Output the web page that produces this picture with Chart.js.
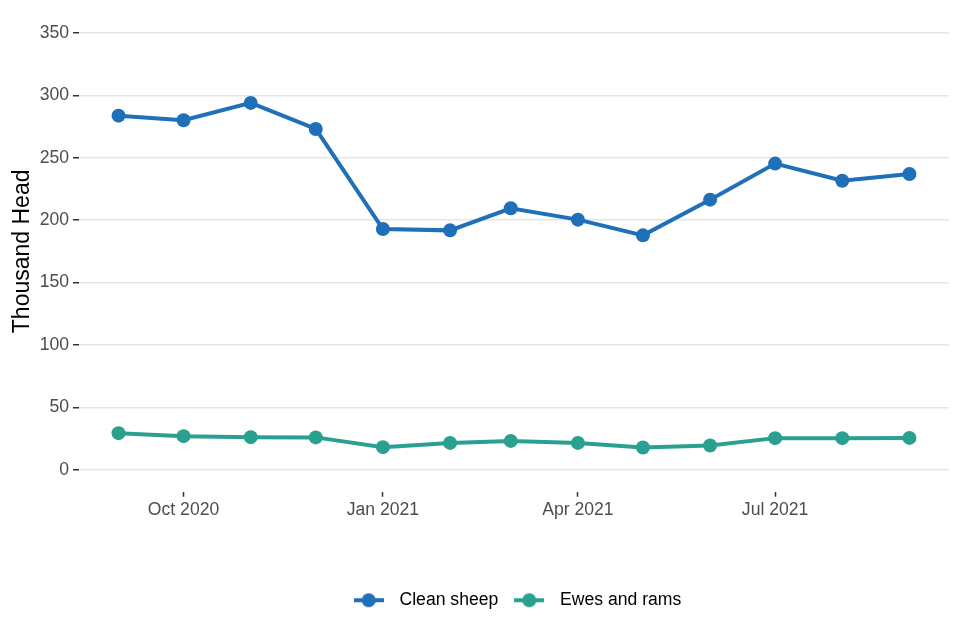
<!DOCTYPE html>
<html>
<head>
<meta charset="utf-8">
<script src="https://cdn.jsdelivr.net/npm/chart.js@4"></script>
<style>
  html, body { margin: 0; padding: 0; background: #ffffff; }
  #wrap { width: 960px; height: 640px; }
</style>
</head>
<body>
<div id="wrap"><canvas id="c" width="960" height="640"></canvas></div>
<script>
// ---- data ----
const months = ['2020-09','2020-10','2020-11','2020-12','2021-01','2021-02','2021-03','2021-04','2021-05','2021-06','2021-07','2021-08','2021-09'];
const cleanSheep = [283.7, 280.0, 293.9, 273.0, 192.9, 191.8, 209.5, 200.4, 187.8, 216.4, 245.3, 231.6, 237.0];
const ewesRams = [29.4, 27.0, 26.2, 26.0, 18.2, 21.6, 23.2, 21.6, 17.9, 19.5, 25.4, 25.4, 25.6];
const tickDates = ['2020-10','2021-01','2021-04','2021-07'];
const tickLabels = ['Oct 2020','Jan 2021','Apr 2021','Jul 2021'];
const yTicks = [0, 50, 100, 150, 200, 250, 300, 350];
const seriesNames = ['Clean sheep', 'Ewes and rams'];
const seriesColors = ['#1f6fb9', '#2aa090'];

// ---- helpers ----
function dayNum(ym) {
  const [y, m] = ym.split('-').map(Number);
  return Date.UTC(y, m - 1, 1) / 86400000;
}
const xs = months.map(dayNum);
const span = xs[xs.length - 1] - xs[0];
const xMin = xs[0] - span * 0.05;
const xMax = xs[xs.length - 1] + span * 0.05;
const yLo = 0, yHi = 350;
const yPad = (yHi - yLo) * 0.05;

function legendIcon(color) {
  const cv = document.createElement('canvas');
  cv.width = 30; cv.height = 16;
  const g = cv.getContext('2d');
  g.strokeStyle = color; g.lineWidth = 4;
  g.beginPath(); g.moveTo(0, 8); g.lineTo(30, 8); g.stroke();
  g.fillStyle = color;
  g.beginPath(); g.arc(15, 8, 7, 0, Math.PI * 2); g.fill();
  return cv;
}
const icons = seriesColors.map(legendIcon);

const FONT = "'Liberation Sans', Arial, sans-serif";

const datasets = [cleanSheep, ewesRams].map((vals, i) => ({
  label: seriesNames[i],
  data: vals.map((v, j) => ({ x: xs[j], y: v })),
  borderColor: seriesColors[i],
  backgroundColor: seriesColors[i],
  pointBackgroundColor: seriesColors[i],
  pointBorderWidth: 0,
  pointRadius: 7,
  pointHoverRadius: 7,
  borderWidth: 4,
  tension: 0,
  fill: false
}));

new Chart(document.getElementById('c'), {
  type: 'line',
  data: { datasets },
  options: {
    responsive: false,
    animation: false,
    devicePixelRatio: 1,
    layout: { padding: { left: 0, right: 11, top: 11, bottom: 21 } },
    plugins: {
      tooltip: { enabled: false },
      legend: {
        position: 'bottom',
        fullSize: false,
        labels: {
          usePointStyle: true,
          pointStyleWidth: 44,
          padding: 9,
          color: '#000000',
          font: { family: FONT, size: 17.6 },
          generateLabels: (chart) => chart.data.datasets.map((ds, i) => ({
            text: ds.label,
            pointStyle: icons[i],
            fillStyle: ds.borderColor,
            strokeStyle: ds.borderColor,
            lineWidth: 0,
            hidden: false,
            datasetIndex: i,
            fontColor: '#000000'
          }))
        }
      }
    },
    scales: {
      x: {
        type: 'linear',
        min: xMin,
        max: xMax,
        afterBuildTicks: (s) => { s.ticks = tickDates.map(d => ({ value: dayNum(d) })); },
        afterFit: (s) => { s.height = 90.7; s.paddingLeft = 0; s.paddingRight = 0; },
        border: { display: false },
        grid: {
          drawOnChartArea: false,
          drawTicks: true,
          tickLength: 5,
          tickColor: '#333333',
          tickWidth: 1.5
        },
        ticks: {
          autoSkip: false,
          maxRotation: 0,
          padding: 3,
          color: '#4d4d4d',
          font: { family: FONT, size: 17.6 },
          callback: (v) => {
            const i = tickDates.findIndex(d => dayNum(d) === v);
            return i >= 0 ? tickLabels[i] : '';
          }
        }
      },
      y: {
        min: yLo - yPad,
        max: yHi + yPad,
        afterBuildTicks: (s) => { s.ticks = yTicks.map(v => ({ value: v })); },
        afterFit: (s) => { s.width = 79; s.paddingTop = 0; s.paddingBottom = 0; },
        border: { display: false },
        grid: {
          color: '#e5e5e5',
          lineWidth: 1.5,
          drawTicks: true,
          tickLength: 6,
          tickColor: '#333333',
          tickWidth: 1.5
        },
        ticks: {
          padding: 4,
          color: '#4d4d4d',
          font: { family: FONT, size: 17.6 },
          callback: (v) => String(v)
        },
        title: {
          display: true,
          text: 'Thousand Head',
          color: '#000000',
          font: { family: FONT, size: 23 },
          padding: { top: 8.5, bottom: 0 }
        }
      }
    }
  }
});
</script>
</body>
</html>
